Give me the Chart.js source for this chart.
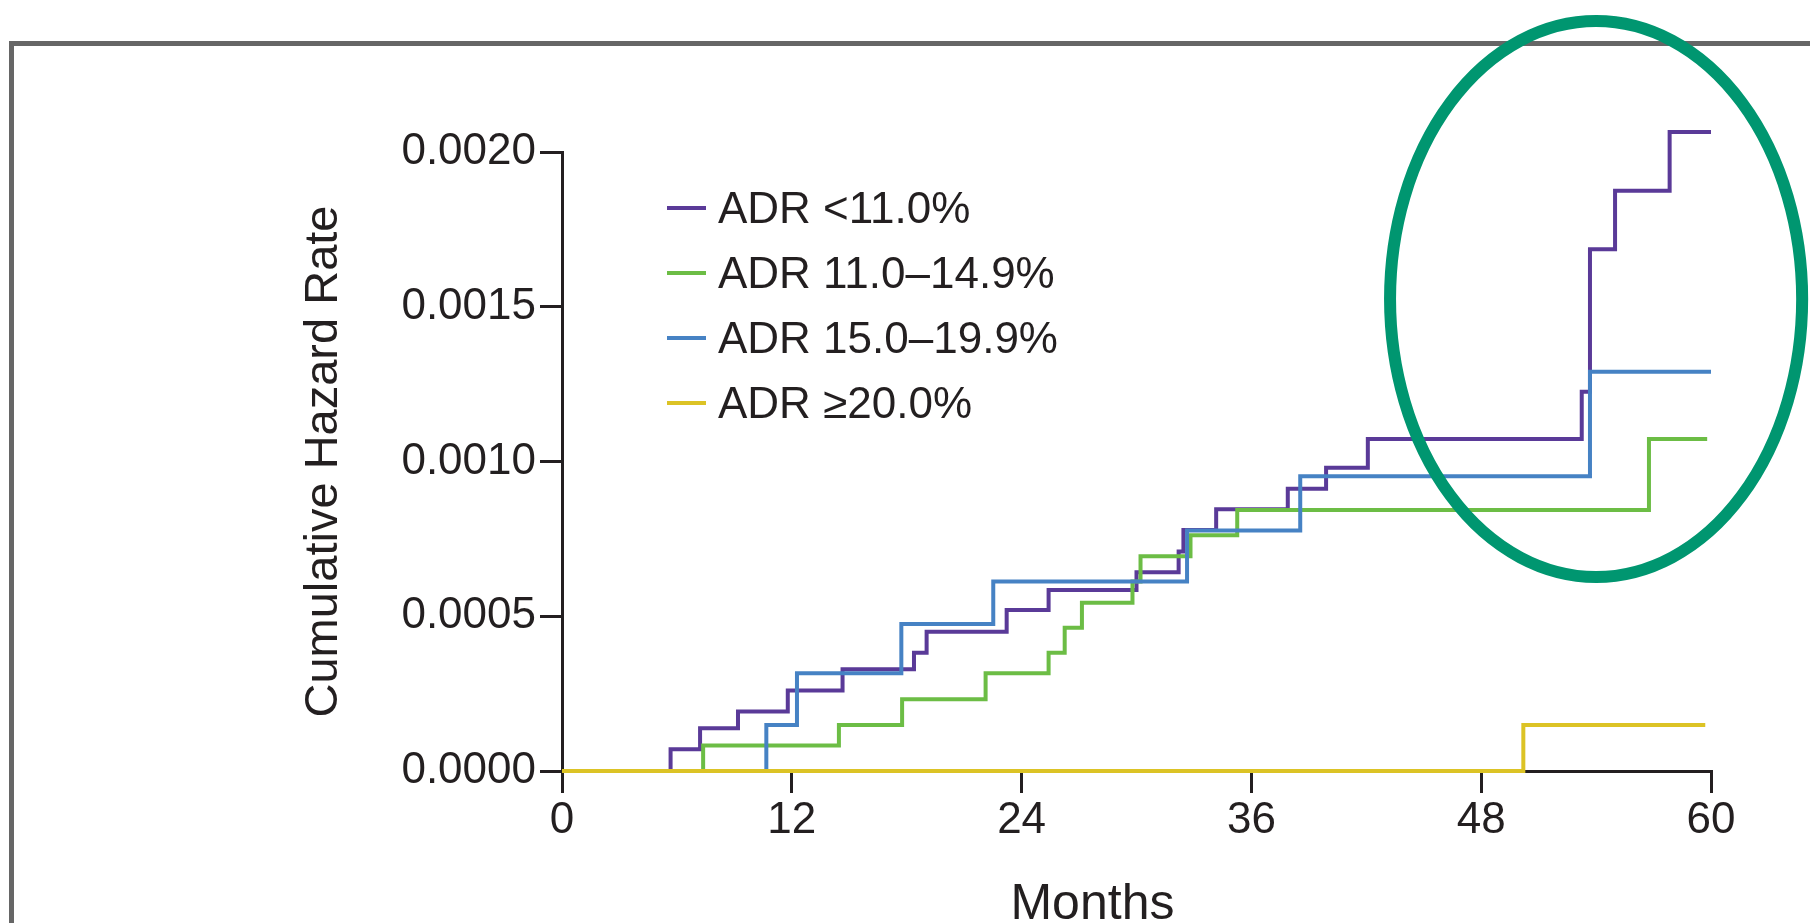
<!DOCTYPE html>
<html>
<head>
<meta charset="utf-8">
<title>Cumulative hazard rate by ADR group</title>
<script src="https://cdn.jsdelivr.net/npm/chart.js@4.4.1/dist/chart.umd.min.js"></script>
<style>
  html, body { margin: 0; padding: 0; background: #fff; overflow: hidden; }
  #wrap { position: relative; width: 1810px; height: 923px; }
  #frame { position: absolute; left: 9px; top: 41px; width: 2000px; height: 1000px;
           border-top: 5px solid #666; border-left: 5px solid #666; }
  #chart { position: absolute; left: 0; top: 0; }
  #legend { position: absolute; left: 667px; top: 175px; color: #231f20;
            font: 44px 'Liberation Sans', Arial, sans-serif; }
  #legend .row { display: flex; align-items: center; height: 65px; white-space: nowrap; }
  #legend .swatch { width: 39px; height: 4px; margin-right: 12px; }
</style>
</head>
<body>
<div id="wrap">
  <div id="frame"></div>
  <canvas id="chart" width="1810" height="923"></canvas>
  <div id="legend"></div>
</div>
<script>
// step points: month where the curve jumps, and the cumulative hazard after the jump
var groupNames = ['ADR <11.0%', 'ADR 11.0\u201314.9%', 'ADR 15.0\u201319.9%', 'ADR \u226520.0%'];
var groupColors = ['#5a3a98', '#6cbd45', '#4682c4', '#dcc325'];

var lowMonths = [0, 5.67, 7.21, 9.19, 11.79, 14.65, 18.38, 19.04, 23.22, 25.41, 30.0, 32.2, 32.45, 34.16, 37.9, 39.9, 42.08, 53.25, 53.68, 54.99, 57.84, 60];
var lowRates  = [0, 0.000070, 0.000138, 0.000192, 0.000260, 0.000329, 0.000382, 0.000450, 0.000520, 0.000585, 0.000642, 0.000709, 0.000779, 0.000846, 0.000912, 0.000980, 0.001073, 0.001225, 0.001686, 0.001875, 0.002065, 0.002065];

var midMonths = [0, 7.37, 14.46, 17.76, 22.12, 25.41, 26.25, 27.15, 29.79, 30.21, 32.82, 35.26, 56.76, 59.8];
var midRates  = [0, 0.000082, 0.000149, 0.000232, 0.000316, 0.000382, 0.000463, 0.000544, 0.000612, 0.000694, 0.000762, 0.000843, 0.001073, 0.001073];

var highMonths = [0, 10.67, 12.27, 17.72, 22.52, 32.64, 38.55, 53.68, 60];
var highRates  = [0, 0.000149, 0.000316, 0.000475, 0.000612, 0.000777, 0.000952, 0.001290, 0.001290];

var topMonths = [0, 50.2, 59.7];
var topRates  = [0, 0.000149, 0.000149];

var xTicks = [0, 12, 24, 36, 48, 60];
var yTicks = [0, 0.0005, 0.0010, 0.0015, 0.0020];

// green ring drawn round the last months, in data units
var highlight = { month: 54.0, rate: 0.001525, halfMonths: 10.76, halfRate: 0.000898 };
var monthsTitleAt = 27.7;

function toPoints(months, rates) {
  return months.map(function(m, i) { return { x: m, y: rates[i] }; });
}

var series = [
  toPoints(lowMonths, lowRates),
  toPoints(midMonths, midRates),
  toPoints(highMonths, highRates),
  toPoints(topMonths, topRates)
];

var ink = '#231f20';
var font = "'Liberation Sans', Arial, sans-serif";

var extras = {
  id: 'extras',
  afterDatasetsDraw: function(chart) {
    var ctx = chart.ctx;
    var x = chart.scales.x, y = chart.scales.y;
    var cx = x.getPixelForValue(highlight.month);
    var cy = y.getPixelForValue(highlight.rate);
    var rx = x.getPixelForValue(highlight.month + highlight.halfMonths) - cx;
    var ry = cy - y.getPixelForValue(highlight.rate + highlight.halfRate);
    ctx.save();
    ctx.beginPath();
    ctx.ellipse(cx, cy, rx, ry, 0, 0, Math.PI * 2);
    ctx.lineWidth = 12;
    ctx.strokeStyle = '#009670';
    ctx.stroke();

    // x title sits left of centre in the original figure
    ctx.font = '50px ' + font;
    ctx.fillStyle = ink;
    ctx.textAlign = 'center';
    ctx.textBaseline = 'alphabetic';
    ctx.fillText('Months', x.getPixelForValue(monthsTitleAt), chart.height - 4);
    ctx.restore();
  }
};

var ctx = document.getElementById('chart').getContext('2d');
new Chart(ctx, {
  type: 'line',
  data: {
    datasets: series.map(function(points, i) {
      return {
        label: groupNames[i],
        data: points,
        borderColor: groupColors[i],
        backgroundColor: groupColors[i],
        borderWidth: 4,
        stepped: true,
        pointRadius: 0,
        fill: false,
        clip: false,
        order: 4 - i   // last group drawn on top
      };
    })
  },
  options: {
    responsive: false,
    animation: false,
    layout: { padding: { top: 152, right: 99, bottom: 0, left: 0 } },
    plugins: { legend: { display: false }, tooltip: { enabled: false } },
    scales: {
      x: {
        type: 'linear',
        min: 0,
        max: 60,
        afterBuildTicks: function(scale) { scale.ticks = xTicks.map(function(v) { return { value: v }; }); },
        afterFit: function(scale) { scale.height = 152; },
        grid: { drawOnChartArea: false, color: ink, lineWidth: 3, tickLength: 22 },
        border: { color: ink, width: 3 },
        ticks: { color: ink, padding: 1, font: { family: font, size: 44 } }
      },
      y: {
        type: 'linear',
        min: 0,
        max: 0.002,
        afterBuildTicks: function(scale) { scale.ticks = yTicks.map(function(v) { return { value: v }; }); },
        afterFit: function(scale) { scale.width = 562; },
        grid: { drawOnChartArea: false, color: ink, lineWidth: 3, tickLength: 22 },
        border: { color: ink, width: 3 },
        ticks: {
          color: ink,
          padding: 4,
          font: { family: font, size: 44 },
          callback: function(v) { return v.toFixed(4); }
        },
        title: {
          display: true,
          text: 'Cumulative Hazard Rate',
          color: ink,
          font: { family: font, size: 47 },
          padding: { top: 296, bottom: 0 }
        }
      }
    }
  },
  plugins: [extras]
});

// legend as plain html so it can sit inside the plot like the original
var legend = document.getElementById('legend');
groupNames.forEach(function(name, i) {
  var row = document.createElement('div');
  row.className = 'row';
  var swatch = document.createElement('span');
  swatch.className = 'swatch';
  swatch.style.background = groupColors[i];
  var text = document.createElement('span');
  text.textContent = name;
  row.appendChild(swatch);
  row.appendChild(text);
  legend.appendChild(row);
});
</script>
</body>
</html>
